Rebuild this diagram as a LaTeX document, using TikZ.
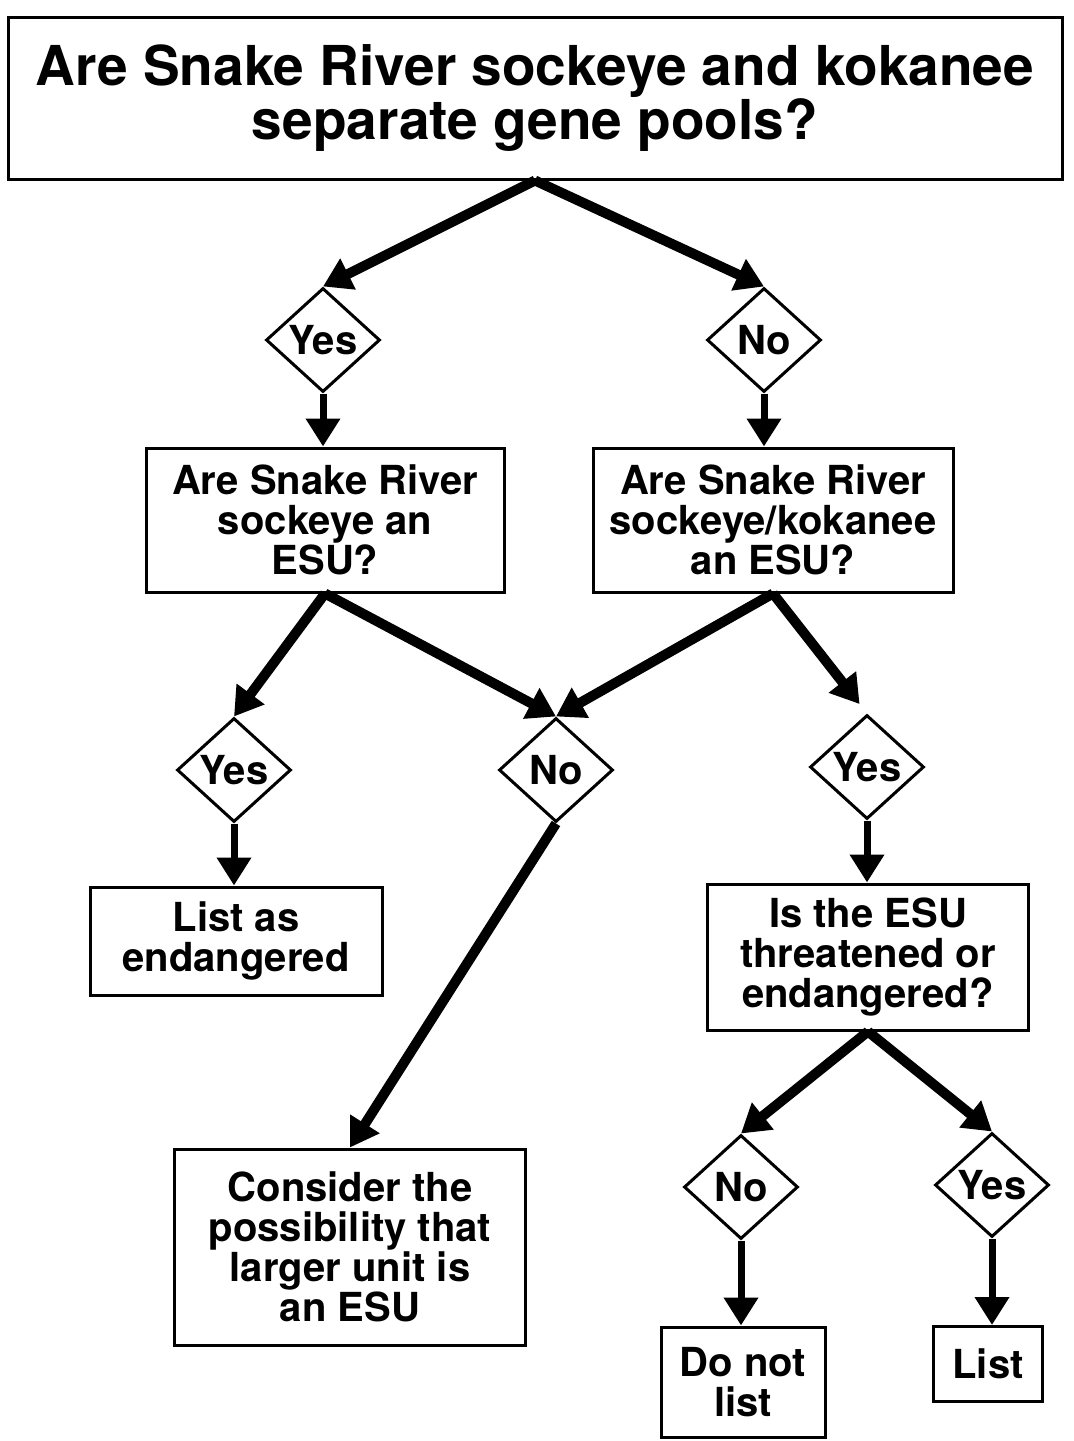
\documentclass[tikz,border=0pt]{standalone}
\usepackage{fontspec}
\setmainfont{TeX Gyre Heros}
\usetikzlibrary{positioning,shapes.geometric,arrows.meta}
\tikzset{>={Triangle[length=28pt,width=33pt]}}
\tikzset{
  qbox/.style={draw,line width=3pt,align=center,inner sep=0pt,
    font=\bfseries\fontsize{40}{40}\selectfont},
  choice/.style={draw,diamond,line width=3pt,inner sep=0pt,
    minimum width=114pt,minimum height=104pt,
    font=\bfseries\fontsize{40}{40}\selectfont},
  flow/.style={->,line width=10pt},
  drop/.style={->,line width=7pt}
}

\begin{document}
\begin{tikzpicture}[x=1pt,y=-1pt]
\useasboundingbox (0,0) rectangle (1074,1441);
\node[qbox,minimum width=1054pt,minimum height=162pt,
  font=\bfseries\fontsize{55}{52}\selectfont] (gene) at (535,98)
  {Are Snake River sockeye and kokanee\\separate gene pools?};
\node[choice] (yesA) at (323,340) {Yes};
\node[choice] (noA) at (764,340) {No};
\node[qbox,minimum width=358pt,minimum height=144pt] (esuS) at (325,520)
  {Are Snake River\\sockeye an\\ESU?};
\node[qbox,minimum width=360pt,minimum height=144pt] (esuSK) at (773,520)
  {Are Snake River\\sockeye/kokanee\\an ESU?};
\node[choice] (yesB) at (234,770) {Yes};
\node[choice] (noB) at (556,770) {No};
\node[choice] (yesC) at (867,767) {Yes};
\node[qbox,minimum width=292pt,minimum height=108pt] (endang) at (236,941)
  {List as\\endangered};
\node[qbox,minimum width=321pt,minimum height=146pt] (threat) at (868,957)
  {Is the ESU\\threatened or\\endangered?};
\node[qbox,minimum width=351pt,minimum height=196pt] (larger) at (350,1247)
  {Consider the\\possibility that\\larger unit is\\an ESU};
\node[choice] (noD) at (741,1187) {No};
\node[choice] (yesD) at (992,1185) {Yes};
\node[qbox,minimum width=164pt,minimum height=110pt] (nolist) at (743,1382)
  {Do not\\list};
\node[qbox,minimum width=109pt,minimum height=75pt] (list) at (988,1364)
  {List};

\draw[flow] (gene.south) -- (yesA.north);
\draw[flow] (gene.south) -- (noA.north);
\draw[drop] (yesA.south) -- (yesA.south |- esuS.north);
\draw[drop] (noA.south) -- (noA.south |- esuSK.north);
\draw[flow] (esuS.south) -- (yesB.north);
\draw[flow] (esuS.south) -- (noB.north);
\draw[flow] (esuSK.south) -- (noB.north);
\draw[flow,shorten >=12pt] (esuSK.south) -- (yesC.north);
\draw[drop] (yesB.south) -- (yesB.south |- endang.north);
\draw[drop] (yesC.south) -- (yesC.south |- threat.north);
\draw[flow] (noB.south) -- (larger.north);
\draw[flow] (threat.south) -- (noD.north);
\draw[flow] (threat.south) -- (yesD.north);
\draw[drop] (noD.south) -- (noD.south |- nolist.north);
\draw[drop] (yesD.south) -- (yesD.south |- list.north);
\end{tikzpicture}
\end{document}
